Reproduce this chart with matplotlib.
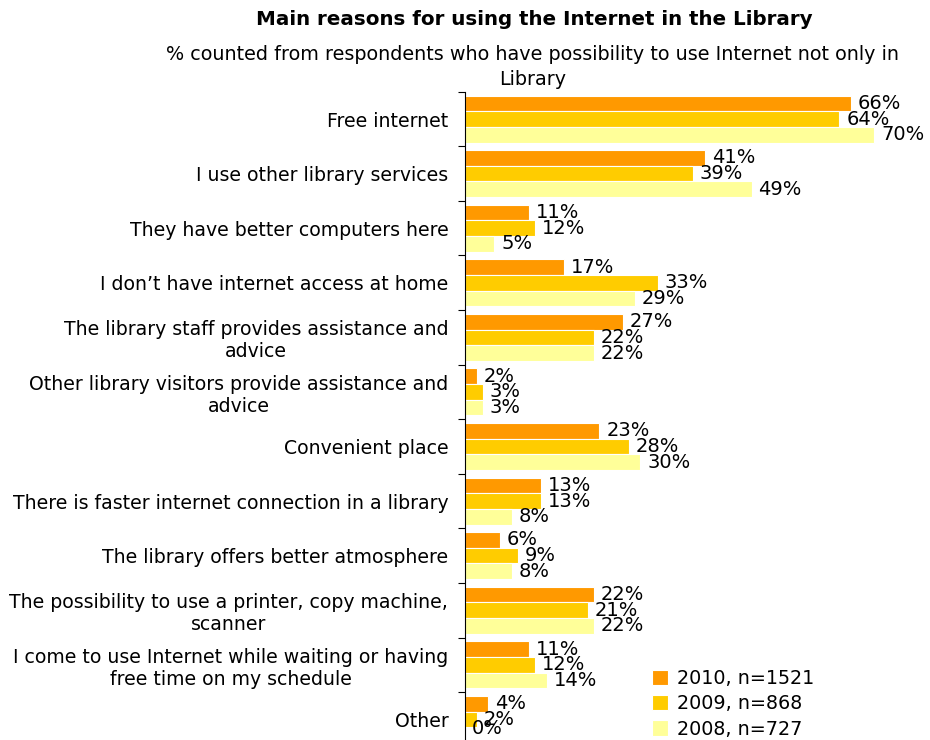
import matplotlib.pyplot as plt
import numpy as np

plt.rcParams['font.family'] = ['DejaVu Sans']

categories = [
    "Free internet",
    "I use other library services",
    "They have better computers here",
    "I don\u2019t have internet access at home",
    "The library staff provides assistance and\nadvice",
    "Other library visitors provide assistance and\nadvice",
    "Convenient place",
    "There is faster internet connection in a library",
    "The library offers better atmosphere",
    "The possibility to use a printer, copy machine,\nscanner",
    "I come to use Internet while waiting or having\nfree time on my schedule",
    "Other",
]
series_names = ["2010, n=1521", "2009, n=868", "2008, n=727"]
v2010 = [66, 41, 11, 17, 27, 2, 23, 13, 6, 22, 11, 4]
v2009 = [64, 39, 12, 33, 22, 3, 28, 13, 9, 21, 12, 2]
v2008 = [70, 49, 5, 29, 22, 3, 30, 8, 8, 22, 14, 0]
colors = ["#FF9900", "#FFCC00", "#FFFF99"]

fig = plt.figure(figsize=(9.3, 7.4), dpi=100)
ax = fig.add_axes([0.5, -0.009, 0.503, 0.885])

n = len(categories)
y = np.arange(n)
h = 0.287
labels = []
for i, (vals, name, c) in enumerate(zip([v2010, v2009, v2008], series_names, colors)):
    bars = ax.barh(y + (i - 1) * h, vals, height=h, color=c, edgecolor='white',
                   linewidth=0.8, label=name)
    labels.append(ax.bar_label(bars, labels=[f"{v}%" for v in vals], padding=5, fontsize=14))

# lift the last label a little so it stays inside the figure
labels[2][-1].xyann = (5, 5)

ax.set_xlim(0, 80)
ax.set_ylim(n - 0.5, -0.5)

# tick marks between groups, labels at group centres
ax.set_yticks(np.arange(n + 1) - 0.5)
ax.set_yticklabels([])
ax.tick_params(axis='y', which='major', length=5, direction='out', width=0.8)
ax.set_yticks(y, minor=True)
ax.set_yticklabels(categories, minor=True, fontsize=13.6)
ax.tick_params(axis='y', which='minor', length=0, pad=12)
for lbl in ax.get_yticklabels(minor=True):
    lbl.set_multialignment('center')

ax.set_xticks([])
for side in ['top', 'right', 'bottom']:
    ax.spines[side].set_visible(False)
ax.spines['left'].set_linewidth(0.8)

fig.text(0.574, 0.973, "Main reasons for using the Internet in the Library",
         ha='center', va='center', fontsize=14.3, fontweight='bold')
fig.text(0.573, 0.909,
         "% counted from respondents who have possibility to use Internet not only in\nLibrary",
         ha='center', va='center', fontsize=13.8, multialignment='center',
         linespacing=1.38)

ax.legend(loc='upper left', bbox_to_anchor=(0.701, 0.096), bbox_transform=fig.transFigure,
          frameon=False, fontsize=13.8, handlelength=0.85, handleheight=0.85,
          handletextpad=0.45, labelspacing=0.33, borderaxespad=0, borderpad=0)

fig.savefig('out.png', dpi=100)
